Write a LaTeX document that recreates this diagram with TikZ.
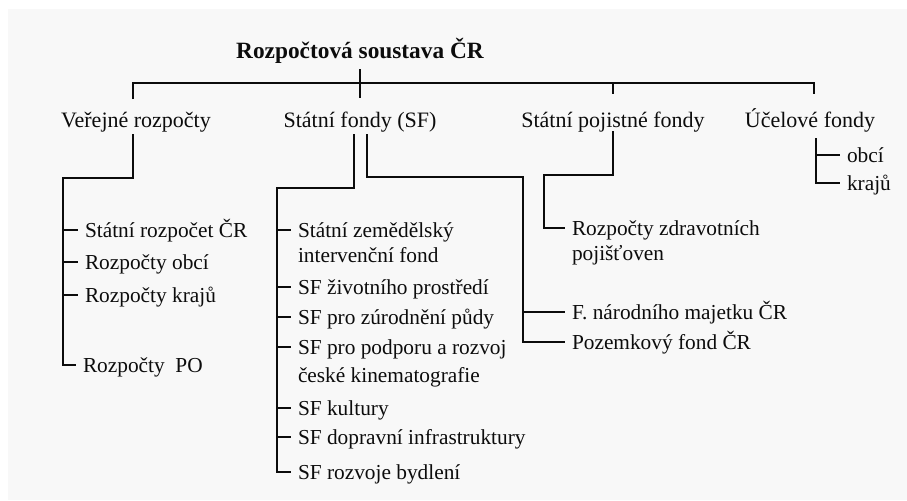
\documentclass[tikz,border=0pt]{standalone}
\usepackage{fontspec}
\setmainfont{Liberation Serif}

\definecolor{ink}{RGB}{12,12,12}
\definecolor{paper}{RGB}{248,248,248}

\tikzset{every picture/.style={line width=1.5pt}}
\tikzset{
    lbl/.style={anchor=west, inner xsep=4.5pt, inner ysep=0pt, text height=10.5pt, text depth=0pt,
        font=\fontsize{16}{19}\selectfont, text=ink},
    head/.style={lbl, anchor=base},
    conn/.style={draw=ink, line width=1.5pt}
}

\begin{document}
\begin{tikzpicture}[x=0.75pt,y=0.75pt,yscale=-1,xscale=1]
            %Background
            \fill[white] (0,0) rectangle (907,500);
            \fill[paper] (8,9) rectangle (907,500);
            \useasboundingbox (0,0) rectangle (907,500);

            % Text Node
            \node[head, font=\bfseries\fontsize{17.5}{20}\selectfont] (title) at (360,58) {Rozpočtová soustava ČR};
            % Text Node
            \node[head, font=\fontsize{16.5}{19}\selectfont] (vr) at (136,127) {Veřejné rozpočty};
            \node[head, font=\fontsize{16.5}{19}\selectfont] (sf) at (360,127) {Státní fondy (SF)};
            \node[head, font=\fontsize{16.5}{19}\selectfont] (spf) at (613,127) {Státní pojistné fondy};
            \node[head, font=\fontsize{16.5}{19}\selectfont] (uf) at (810,127) {Účelové fondy};

            % Text Node
            \node[lbl] (sr) at (78,230) {Státní rozpočet ČR};
            \node[lbl] (ro) at (78,262) {Rozpočty obcí};
            \node[lbl] (rk) at (78,295) {Rozpočty krajů};
            \node[lbl] (po) at (76,365) {Rozpočty\ \ PO};

            % Text Node
            \node[lbl] (szif) at (291,230) {Státní zemědělský};
            \node[lbl] (szif2) at (291,255) {intervenční fond};
            \node[lbl] (szp) at (291,287) {SF životního prostředí};
            \node[lbl] (zp) at (291,317) {SF pro zúrodnění půdy};
            \node[lbl] (pr) at (291,347) {SF pro podporu a rozvoj};
            \node[lbl] (pr2) at (291,375) {české kinematografie};
            \node[lbl] (ku) at (291,408) {SF kultury};
            \node[lbl] (di) at (291,437) {SF dopravní infrastruktury};
            \node[lbl] (rb) at (291,472) {SF rozvoje bydlení};

            % Text Node
            \node[lbl] (fnm) at (565,312) {F. národního majetku ČR};
            \node[lbl] (pz) at (565,342) {Pozemkový fond ČR};
            \node[lbl] (rzp) at (565,228) {Rozpočty zdravotních};
            \node[lbl] (rzp2) at (565,253) {pojišťoven};

            % Text Node
            \node[lbl] (obci) at (840,155) {obcí};
            \node[lbl] (kraju) at (840,183) {krajů};

            %Straight Lines (levels)
            \coordinate (ybar) at (0,83);
            \coordinate (ycross) at (0,98);

            %Straight Lines (main bar)
            \draw[conn, shorten <=9.75pt, shorten >=13.5pt] ([xshift=-2.25pt]vr.north) |- ([xshift=3pt]ybar -| uf.north) -- ([xshift=3pt]uf.north);
            \draw[conn, shorten <=7.5pt] (title.south) -- (title.south |- ycross);
            \draw[conn, shorten >=13.5pt] (spf.north |- ybar) -- (spf.north);

            %Straight Lines (Verejne rozpocty)
            \coordinate (vrT) at (63,178);
            \draw[conn, shorten <=4.5pt] ([xshift=-2.25pt]vr.south) |- (vrT) |- (po.west);
            \foreach \n in {sr,ro,rk}
                \draw[conn] (vrT |- \n.west) -- (\n.west);

            %Straight Lines (Statni fondy)
            \coordinate (sfT) at (277,188);
            \draw[conn, shorten <=4.5pt] ([xshift=-4.5pt]sf.south) |- (sfT) |- (rb.west);
            \foreach \n in {szif,szp,zp,pr,ku,di}
                \draw[conn] (sfT |- \n.west) -- (\n.west);

            \coordinate (pfT) at (523,177);
            \draw[conn, shorten <=4.5pt] ([xshift=5.25pt]sf.south) |- (pfT) |- (pz.west);
            \draw[conn] (pfT |- fnm.west) -- (fnm.west);

            %Straight Lines (Statni pojistne fondy)
            \coordinate (spfT) at (544,175);
            \draw[conn, shorten <=2.25pt] (spf.south) |- (spfT) |- (rzp.west);

            %Straight Lines (Ucelove fondy)
            \coordinate (ufT) at ([xshift=4.5pt]uf.south);
            \draw[conn, shorten <=7.5pt] (ufT) |- (kraju.west);
            \draw[conn] (ufT |- obci.west) -- (obci.west);
\end{tikzpicture}
\end{document}
